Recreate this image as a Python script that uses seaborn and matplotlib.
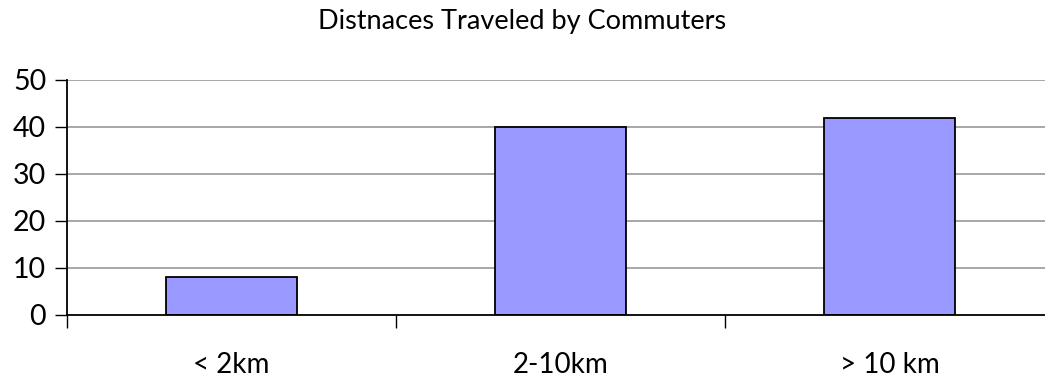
import matplotlib
matplotlib.use("Agg")
import matplotlib.pyplot as plt
import seaborn as sns
import pandas as pd

categories = ["< 2km", "2-10km", "> 10 km"]
values = [8, 40, 42]
y_ticks = [0, 10, 20, 30, 40, 50]
title = "Distnaces Traveled by Commuters"

sns.set_theme(style="white")
plt.rcParams['font.family'] = ['Lato', 'DejaVu Sans']

df = pd.DataFrame({"cat": categories, "val": values})

fig = plt.figure(figsize=(10.45, 3.79), dpi=100)
ax = fig.add_axes([67/1045, (379-314.5)/379, (1054-67)/1045, (314.5-80)/379])

ax.set_axisbelow(True)
for t in y_ticks[1:]:
    ax.axhline(t, color="#A0A0A0", lw=1.3, zorder=0)

sns.barplot(data=df, x="cat", y="val", color="#9999FF", width=0.4,
            edgecolor="black", linewidth=1.3, saturation=1, ax=ax, zorder=2)

ax.set_xlim(-0.5, 2.5)
ax.set_ylim(0, 50)
ax.set_yticks(y_ticks)
ax.set_xticks([-0.5, 0.5, 1.5, 2.5])
ax.set_xticklabels([])
ax.set_xticks([0, 1, 2], minor=True)
ax.set_xticklabels(categories, minor=True)
ax.tick_params(axis="x", which="major", direction="out", length=9, width=1, color="black", bottom=True)
ax.tick_params(axis="x", which="minor", length=0, pad=27, labelsize=20, labelcolor="black")
ax.tick_params(axis="y", direction="out", length=9, width=1, color="black", left=True, labelsize=20.5, labelcolor="black", pad=6)
ax.set_xlabel("")
ax.set_ylabel("")
for s in ["top", "right"]:
    ax.spines[s].set_visible(False)
for s in ["left", "bottom"]:
    ax.spines[s].set_color("black")
    ax.spines[s].set_linewidth(1.3)

fig.text(0.5, 1 - 21/379, title, ha="center", va="center", fontsize=19.5, color="black")

fig.savefig("out.png", dpi=100)
